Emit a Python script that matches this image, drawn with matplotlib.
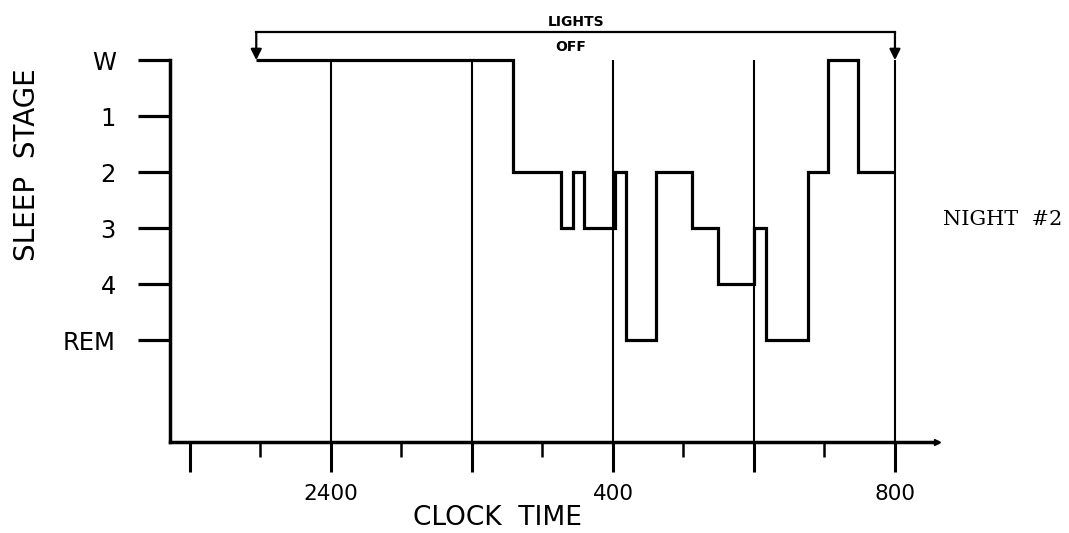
import numpy as np
import matplotlib.pyplot as plt

# sleep stages, top to bottom
stage_labels = ["W", "1", "2", "3", "4", "REM"]
stage_levels = [0, -1, -2, -3, -4, -5]

# hypnogram: clock time (hours after midnight) at each stage change
change_hours = [-1.06, 2.58, 3.26, 3.43, 3.59, 4.03, 4.18, 4.61,
                5.12, 5.49, 6.00, 6.17, 6.77, 7.05, 7.48, 8.00]
stage_seq = ["W", "2", "3", "2", "3", "2", "REM", "2",
             "3", "4", "3", "REM", "2", "W", "2"]

lights_off = -1.06
lights_on = 8.0

grid_hours = [0, 2, 4, 6]
major_hours = [-2, 0, 2, 4, 6, 8]
major_labels = ["", "2400", "", "400", "", "800"]
minor_hours = [-1, 1, 3, 5, 7]

level = dict(zip(stage_labels, stage_levels))
values = [level[s] for s in stage_seq]

fig = plt.figure(figsize=(10.69, 5.33), dpi=100)
ax = fig.add_axes([0.159, 0.1707, 0.7175, 0.8103])
ymin, ymax = -6.821, 0.893
ax.set_xlim(-2.284, 8.596)
ax.set_ylim(ymin, ymax)

# hour lines from wake level down to the axis
ax.vlines(grid_hours + [lights_on], ymin, 0, color="black", lw=1.5)

# hypnogram
ax.stairs(values, change_hours, baseline=None, color="black", lw=2.3)

# lights off bracket
bracket_y = 0.5
ax.plot([lights_off, lights_on], [bracket_y, bracket_y], color="black", lw=1.6)
for h in (lights_off, lights_on):
    ax.annotate("", xy=(h, 0), xytext=(h, bracket_y),
                arrowprops=dict(arrowstyle="-|>", color="black", lw=1.6,
                                mutation_scale=16, shrinkA=0, shrinkB=0))
ax.text(3.47, 0.68, "LIGHTS", ha="center", va="center",
        fontsize=10, fontweight="bold")
ax.text(3.40, 0.23, "OFF", ha="center", va="center",
        fontsize=10, fontweight="bold")

# axes styling
for s in ("top", "right"):
    ax.spines[s].set_visible(False)
ax.spines["left"].set_bounds(ymin, 0)
ax.spines["left"].set_linewidth(2.5)
ax.spines["bottom"].set_linewidth(2.5)
ax.plot(1, 0, ">", color="black", ms=5, transform=ax.transAxes, clip_on=False)

ax.set_yticks(stage_levels, stage_labels)
ax.tick_params(axis="y", length=23, width=2.3, pad=16, labelsize=17.5)
ax.set_xticks(major_hours, major_labels)
ax.set_xticks(minor_hours, minor=True)
ax.tick_params(axis="x", which="major", length=21.5, width=2.2, pad=9,
               labelsize=15.5)
ax.tick_params(axis="x", which="minor", length=11, width=1.8)

fig.text(27 / 1069, 1 - 165 / 533, "SLEEP  STAGE", rotation=90,
         ha="center", va="center", fontsize=20)
fig.text(497 / 1069, 1 - 518 / 533, "CLOCK  TIME",
         ha="center", va="center", fontsize=19)
fig.text(943 / 1069, 1 - 219.5 / 533, "NIGHT  #2", family="DejaVu Serif",
         ha="left", va="center", fontsize=15)

fig.savefig("out.png", dpi=100, facecolor="white")
